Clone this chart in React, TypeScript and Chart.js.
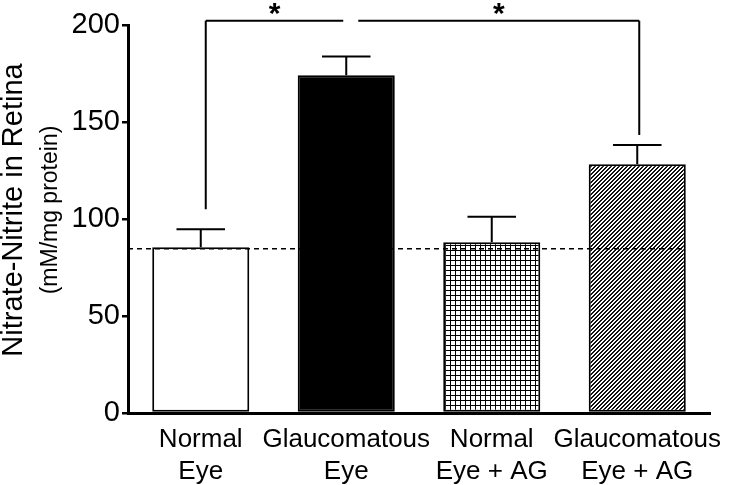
import React, { useEffect, useRef } from "react";
import { Chart, registerables } from "chart.js";

Chart.register(...registerables);

const categories: string[][] = [
  ["Normal", "Eye"],
  ["Glaucomatous", "Eye"],
  ["Normal", "Eye + AG"],
  ["Glaucomatous", "Eye + AG"],
];
const means: number[] = [85.4, 174.1, 88.0, 128.2];
const sems: number[] = [9.3, 9.6, 13.2, 9.9];
const yTicks: number[] = [0, 50, 100, 150, 200];
const baselineValue = 84.7;
// significance brackets: from category, to category, category where it drops, value it drops to
const bracketFrom: number[] = [0, 1];
const bracketTo: number[] = [1, 3];
const bracketDropAt: number[] = [0, 3];
const bracketDropValue: number[] = [105, 143.3];
const bracketLevel = 202.2;
const yTitle1 = "Nitrate-Nitrite in Retina";
const yTitle2 = "(mM/mg protein)";

const FONT = "'Liberation Sans', Arial, Helvetica, sans-serif";

function gridPattern(): CanvasPattern | string {
  const c = document.createElement("canvas");
  c.width = 5;
  c.height = 5;
  const g = c.getContext("2d");
  if (!g) return "#888";
  g.fillStyle = "#fff";
  g.fillRect(0, 0, 5, 5);
  g.fillStyle = "#000";
  g.fillRect(0, 0, 5, 1);
  g.fillRect(0, 0, 1, 5);
  return g.createPattern(c, "repeat") || "#888";
}

function hatchPattern(): CanvasPattern | string {
  const s = 4;
  const c = document.createElement("canvas");
  c.width = s;
  c.height = s;
  const g = c.getContext("2d");
  if (!g) return "#888";
  g.fillStyle = "#fff";
  g.fillRect(0, 0, s, s);
  g.fillStyle = "#111";
  for (let x = 0; x < s; x++) {
    for (let y = 0; y < s; y++) {
      const m = (x + y) % s;
      if (m === 0 || m === 1) g.fillRect(x, y, 1, 1);
    }
  }
  return g.createPattern(c, "repeat") || "#888";
}

const overlayPlugin = {
  id: "overlay",
  afterDatasetsDraw(chart: any) {
    const ctx: CanvasRenderingContext2D = chart.ctx;
    const meta = chart.getDatasetMeta(0);
    const y = chart.scales.y;
    const area = chart.chartArea;
    ctx.save();
    // error bars
    ctx.strokeStyle = "#000";
    ctx.lineWidth = 2;
    meta.data.forEach((bar: any, i: number) => {
      const top = y.getPixelForValue(means[i]);
      const err = y.getPixelForValue(means[i] + sems[i]);
      const half = bar.width / 4;
      ctx.beginPath();
      ctx.moveTo(bar.x, top);
      ctx.lineTo(bar.x, err);
      ctx.moveTo(bar.x - half, err);
      ctx.lineTo(bar.x + half, err);
      ctx.stroke();
    });
    // dashed baseline
    const last = meta.data[meta.data.length - 1];
    const by = y.getPixelForValue(baselineValue);
    ctx.setLineDash([5, 4]);
    ctx.lineWidth = 1.5;
    ctx.beginPath();
    ctx.moveTo(area.left, by);
    ctx.lineTo(last.x + last.width / 2, by);
    ctx.stroke();
    ctx.setLineDash([]);
    // brackets
    ctx.lineWidth = 2;
    const ly = y.getPixelForValue(bracketLevel);
    ctx.fillStyle = "#000";
    ctx.font = `bold 30px ${FONT}`;
    ctx.textAlign = "center";
    ctx.textBaseline = "alphabetic";
    bracketFrom.forEach((f, k) => {
      const x1 = meta.data[f].x + (k === 0 ? 5 : 12);
      const x2 = meta.data[bracketTo[k]].x + (k === 0 ? -3 : 2);
      const dx = bracketDropAt[k] === f ? x1 : x2;
      const dy = y.getPixelForValue(bracketDropValue[k]);
      ctx.beginPath();
      ctx.moveTo(x1, ly);
      ctx.lineTo(x2, ly);
      ctx.moveTo(dx, ly);
      ctx.lineTo(dx, dy);
      ctx.stroke();
      ctx.fillText("*", (x1 + x2) / 2, ly + 2);
    });
    ctx.restore();
  },
  afterDraw(chart: any) {
    const ctx: CanvasRenderingContext2D = chart.ctx;
    const area = chart.chartArea;
    const cy = (area.top + area.bottom) / 2 - 9;
    ctx.save();
    ctx.fillStyle = "#000";
    ctx.textAlign = "center";
    ctx.textBaseline = "middle";
    ctx.translate(14, cy);
    ctx.rotate(-Math.PI / 2);
    ctx.font = `29px ${FONT}`;
    ctx.fillText(yTitle1, 0, 0);
    ctx.restore();
    ctx.save();
    ctx.fillStyle = "#000";
    ctx.textAlign = "center";
    ctx.textBaseline = "middle";
    ctx.translate(51, cy);
    ctx.rotate(-Math.PI / 2);
    ctx.font = `23px ${FONT}`;
    ctx.fillText(yTitle2, 0, 0);
    ctx.restore();
  },
};

export default function App() {
  const ref = useRef<HTMLCanvasElement>(null);
  useEffect(() => {
    document.body.style.margin = "0";
    const canvas = ref.current;
    if (!canvas) return;
    const chart = new Chart(canvas, {
      type: "bar",
      data: {
        labels: categories,
        datasets: [
          {
            data: means,
            backgroundColor: ["#ffffff", "#000000", gridPattern(), hatchPattern()] as any,
            borderColor: "#000",
            borderWidth: 2,
            borderSkipped: false,
            categoryPercentage: 1,
            barPercentage: 0.667,
          },
        ],
      },
      options: {
        animation: false,
        responsive: false,
        devicePixelRatio: 1,
        layout: { padding: { left: 0, right: 23, top: 25, bottom: 0 } },
        plugins: {
          legend: { display: false },
          tooltip: { enabled: false },
          title: { display: false },
        },
        scales: {
          x: {
            grid: { display: false },
            border: { display: true, color: "#000", width: 3 },
            ticks: {
              color: "#000",
              font: { family: FONT, size: 26, lineHeight: 1.23 },
              padding: 3,
              maxRotation: 0,
              autoSkip: false,
            },
            afterFit(scale: any) {
              scale.height = 72;
            },
          },
          y: {
            min: 0,
            max: 200,
            afterBuildTicks(scale: any) {
              scale.ticks = yTicks.map((v) => ({ value: v }));
            },
            grid: {
              display: true,
              drawOnChartArea: false,
              drawTicks: true,
              tickLength: 6,
              color: "#000",
              lineWidth: 2.5,
            },
            border: { display: true, color: "#000", width: 3 },
            ticks: {
              color: "#000",
              font: { family: FONT, size: 29 },
              padding: 2,
            },
            afterFit(scale: any) {
              scale.width = 128;
            },
          },
        },
      },
      plugins: [overlayPlugin],
    });
    return () => chart.destroy();
  }, []);
  return (
    <canvas
      ref={ref}
      width={733}
      height={485}
      style={{ display: "block", width: 733, height: 485 }}
    />
  );
}
